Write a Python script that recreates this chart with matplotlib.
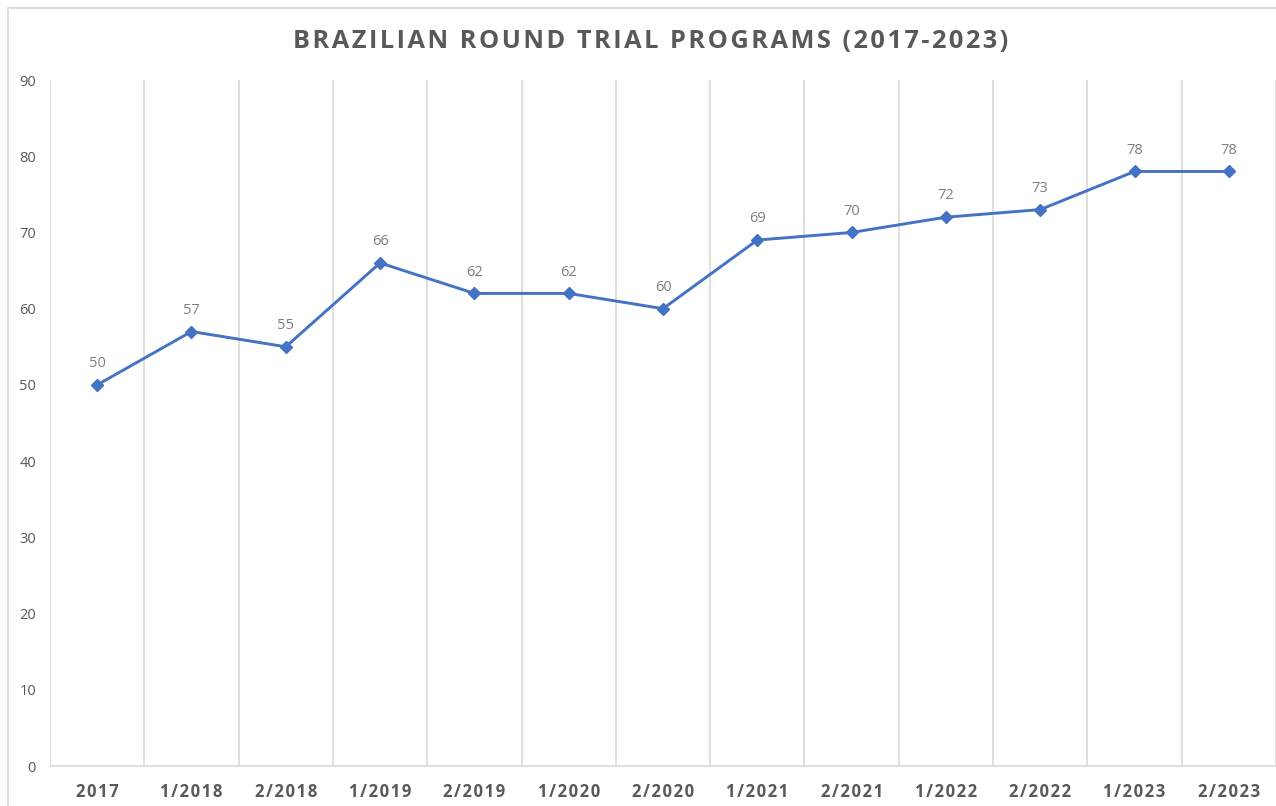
import matplotlib.pyplot as plt
from matplotlib.patches import Rectangle
import numpy as np

categories = ['2017', '1/2018', '2/2018', '1/2019', '2/2019', '1/2020', '2/2020',
              '1/2021', '2/2021', '1/2022', '2/2022', '1/2023', '2/2023']
programs = [50, 57, 55, 66, 62, 62, 60, 69, 70, 72, 73, 78, 78]
y_ticks = list(range(0, 91, 10))

grey = '#595959'
fam = ['Open Sans', 'DejaVu Sans']


def spaced(s, sp='\u200a'):
    return sp.join(s)


fig = plt.figure(figsize=(12.76, 8.06), dpi=100)
fig.patches.append(Rectangle((8 / 1276, -0.1), 1.2, 0.1 + 1 - 8 / 806, transform=fig.transFigure,
                             fill=False, edgecolor='#d9d9d9', linewidth=1.2))
ax = fig.add_axes([50 / 1276, 40 / 806, 1 - 50 / 1276, 686 / 806])

x = np.arange(len(categories))
ax.plot(x, programs, color='#4472C4', linewidth=2.1, marker='D', markersize=6, zorder=3)
for xi, v in zip(x, programs):
    ax.annotate(str(v), (xi, v), xytext=(0, 10), textcoords='offset points',
                ha='center', va='bottom', color='#7f7f7f', fontsize=10.5, family=fam)

ax.set_xlim(-0.5, len(categories) - 0.5)
ax.set_ylim(0, 90)
ax.set_yticks(y_ticks)
ax.set_yticklabels([str(t) for t in y_ticks], color=grey, fontsize=10.5, family=fam)
ax.set_xticks(x)
ax.set_xticklabels([spaced(c) for c in categories], color=grey, fontsize=12,
                   fontweight='bold', family=fam)
ax.set_xticks(np.arange(-0.5, len(categories), 1), minor=True)
ax.tick_params(which='both', length=0)
ax.tick_params(axis='x', pad=12)
ax.tick_params(axis='y', pad=10)
ax.grid(which='minor', axis='x', color='#d9d9d9', linewidth=1.2)
for s in ['top', 'right', 'left']:
    ax.spines[s].set_visible(False)
ax.spines['bottom'].set_color('#d9d9d9')
ax.spines['bottom'].set_linewidth(1.2)

fig.text(651 / 1276, 1 - 42 / 806, spaced('BRAZILIAN ROUND TRIAL PROGRAMS (2017-2023)'),
         ha='center', va='center', color=grey, fontsize=18.3, fontweight='bold', family=fam)

fig.savefig('out.png', dpi=100)
